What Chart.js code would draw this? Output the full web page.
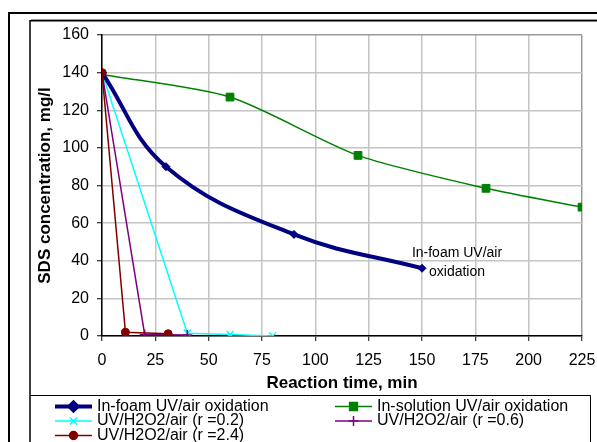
<!DOCTYPE html>
<html>
<head>
<meta charset="utf-8">
<script src="https://cdn.jsdelivr.net/npm/chart.js@4.4.1/dist/chart.umd.min.js"></script>
<style>
  html, body { margin: 0; padding: 0; background: #fff; }
  #wrap { width: 597px; height: 442px; position: relative; }
</style>
</head>
<body>
<div id="wrap"><canvas id="chart" width="597" height="442"></canvas></div>
<script>
// values
const seriesLabels = [
    'In-foam UV/air oxidation',
    'In-solution UV/air oxidation',
    'UV/H2O2/air (r =0.2)',
    'UV/H2O2/air (r =0.6)',
    'UV/H2O2/air (r =2.4)',
];
const foamTime = [0, 30, 90, 150];
const foamConc = [140, 90, 54, 36];
const solutionTime = [0, 60, 120, 180, 225];
const solutionConc = [139, 127, 96, 78.5, 68.5];
const r02Time = [0, 40, 60, 80];
const r02Conc = [140, 1.5, 0.8, 0];
const r06Time = [0, 20, 40];
const r06Conc = [140, 0.8, 0.5];
const r24Time = [0, 11, 31];
const r24Conc = [140, 2, 1.2];
const xTicks = [0, 25, 50, 75, 100, 125, 150, 175, 200, 225];
const yTicks = [0, 20, 40, 60, 80, 100, 120, 140, 160];
const noteLines = ['In-foam UV/air', 'oxidation'];

const pairs = (xs, ys) => xs.map((x, i) => ({ x, y: ys[i] }));

Chart.defaults.font.family = '"Liberation Sans", Arial, sans-serif';
Chart.defaults.color = '#000';

const framePlugin = {
    id: 'frame',
    beforeDraw(chart) {
        const ctx = chart.ctx;
        ctx.save();
        ctx.fillStyle = '#fff';
        ctx.fillRect(0, 0, chart.width, chart.height);
        // outer sheet border
        ctx.strokeStyle = '#000';
        ctx.lineWidth = 2;
        ctx.beginPath();
        ctx.moveTo(9, 442);
        ctx.lineTo(9, 13);
        ctx.lineTo(597, 13);
        ctx.stroke();
        // chart object border
        ctx.strokeStyle = '#999';
        ctx.lineWidth = 1;
        ctx.beginPath();
        ctx.moveTo(31, 19.5);
        ctx.lineTo(597, 19.5);
        ctx.stroke();
        ctx.strokeStyle = '#000';
        ctx.lineWidth = 1.5;
        ctx.beginPath();
        ctx.moveTo(30, 442);
        ctx.lineTo(30, 20.75);
        ctx.lineTo(597, 20.75);
        ctx.stroke();
        ctx.restore();
    },
    afterDatasetsDraw(chart) {
        const ctx = chart.ctx;
        const xs = chart.scales.x, ys = chart.scales.y;
        const px = xs.getPixelForValue(foamTime[foamTime.length - 1]) + 35;
        const py = ys.getPixelForValue(foamConc[foamConc.length - 1]);
        ctx.save();
        ctx.fillStyle = '#000';
        ctx.font = '14px "Liberation Sans", Arial, sans-serif';
        ctx.textAlign = 'center';
        ctx.textBaseline = 'middle';
        ctx.fillText(noteLines[0], px, py - 15);
        ctx.fillText(noteLines[1], px, py + 4);
        ctx.restore();
    },
    afterDraw(chart) {
        const ctx = chart.ctx;
        ctx.save();
        // legend box
        ctx.strokeStyle = '#000';
        ctx.lineWidth = 1;
        ctx.beginPath();
        ctx.moveTo(30, 395.5);
        ctx.lineTo(590.5, 395.5);
        ctx.lineTo(590.5, 442);
        ctx.stroke();
        ctx.font = '16px "Liberation Sans", Arial, sans-serif';
        ctx.textBaseline = 'middle';
        chart.data.datasets.forEach((ds, i) => {
            const x0 = i % 2 ? 335 : 55;
            const y = 406.5 + Math.floor(i / 2) * 14.5;
            ctx.strokeStyle = ds.borderColor;
            ctx.lineWidth = ds.borderWidth;
            ctx.beginPath();
            ctx.moveTo(x0, y);
            ctx.lineTo(x0 + 37, y);
            ctx.stroke();
            ctx.fillStyle = ds.pointBackgroundColor;
            ctx.strokeStyle = ds.pointBorderColor;
            Chart.helpers.drawPoint(ctx, {
                pointStyle: ds.pointStyle,
                radius: ds.pointRadius,
                borderWidth: ds.pointBorderWidth,
                rotation: 0,
            }, x0 + 18.5, y);
            ctx.fillStyle = '#000';
            ctx.fillText(ds.label, x0 + 42, y);
        });
        ctx.restore();
    },
};

const gridColor = (c) => (c.tick && (c.tick.value === 225 || c.tick.value === 160) ? '#999' : '#c4c4c4');

new Chart(document.getElementById('chart'), {
    type: 'line',
    data: {
        datasets: [
            {
                label: seriesLabels[0],
                data: pairs(foamTime, foamConc),
                borderColor: '#000080',
                borderWidth: 4,
                tension: 0.4,
                pointStyle: 'rectRot',
                pointRadius: 4,
                pointBackgroundColor: '#000080',
                pointBorderColor: '#000080',
                pointBorderWidth: 1,
                order: 1,
            },
            {
                label: seriesLabels[1],
                data: pairs(solutionTime, solutionConc),
                borderColor: '#008000',
                borderWidth: 1.5,
                tension: 0.25,
                pointStyle: 'rect',
                pointRadius: 5.5,
                pointBackgroundColor: '#008000',
                pointBorderColor: '#008000',
                pointBorderWidth: 1,
                order: 4,
            },
            {
                label: seriesLabels[2],
                data: pairs(r02Time, r02Conc),
                borderColor: '#00ffff',
                borderWidth: 1.5,
                tension: 0,
                pointStyle: 'crossRot',
                pointRadius: 5,
                pointBackgroundColor: '#00ffff',
                pointBorderColor: '#00ffff',
                pointBorderWidth: 1.5,
                order: 3,
            },
            {
                label: seriesLabels[3],
                data: pairs(r06Time, r06Conc),
                borderColor: '#800080',
                borderWidth: 1.5,
                tension: 0,
                pointStyle: 'cross',
                pointRadius: 5,
                pointBackgroundColor: '#800080',
                pointBorderColor: '#800080',
                pointBorderWidth: 1.5,
                order: 2,
            },
            {
                label: seriesLabels[4],
                data: pairs(r24Time, r24Conc),
                borderColor: '#800000',
                borderWidth: 1.5,
                tension: 0,
                pointStyle: 'circle',
                pointRadius: 4,
                pointBackgroundColor: '#800000',
                pointBorderColor: '#800000',
                pointBorderWidth: 1,
                order: 0,
            },
        ],
    },
    options: {
        responsive: false,
        animation: false,
        devicePixelRatio: 1,
        layout: {
            padding: { left: 32, right: 15, top: 35, bottom: 46 },
        },
        plugins: {
            legend: { display: false },
            tooltip: { enabled: false },
        },
        scales: {
            x: {
                type: 'linear',
                min: 0,
                max: 225,
                afterBuildTicks: (s) => { s.ticks = xTicks.map((v) => ({ value: v })); },
                afterFit: (s) => { s.height = 60; s.paddingLeft = 0; s.paddingRight = 0; },
                ticks: { font: { size: 16 }, padding: 10, maxRotation: 0 },
                grid: { color: gridColor, lineWidth: 1.5, tickColor: '#000', tickLength: 5, tickWidth: 1 },
                border: { color: '#000', width: 1.5 },
                title: {
                    display: true,
                    text: 'Reaction time, min',
                    font: { size: 17, weight: 'bold' },
                    padding: { top: 0, bottom: 2 },
                },
            },
            y: {
                min: 0,
                max: 160,
                afterBuildTicks: (s) => { s.ticks = yTicks.map((v) => ({ value: v })); },
                afterFit: (s) => { s.width = 70; s.paddingTop = 0; s.paddingBottom = 0; },
                ticks: { font: { size: 16 }, padding: 8 },
                grid: { color: gridColor, lineWidth: 1.5, tickColor: '#000', tickLength: 5, tickWidth: 1 },
                border: { color: '#000', width: 1.5 },
                title: {
                    display: true,
                    text: 'SDS concentration, mg/l',
                    font: { size: 17, weight: 'bold' },
                    padding: { top: 3, bottom: 0 },
                },
            },
        },
    },
    plugins: [framePlugin],
});
</script>
</body>
</html>
